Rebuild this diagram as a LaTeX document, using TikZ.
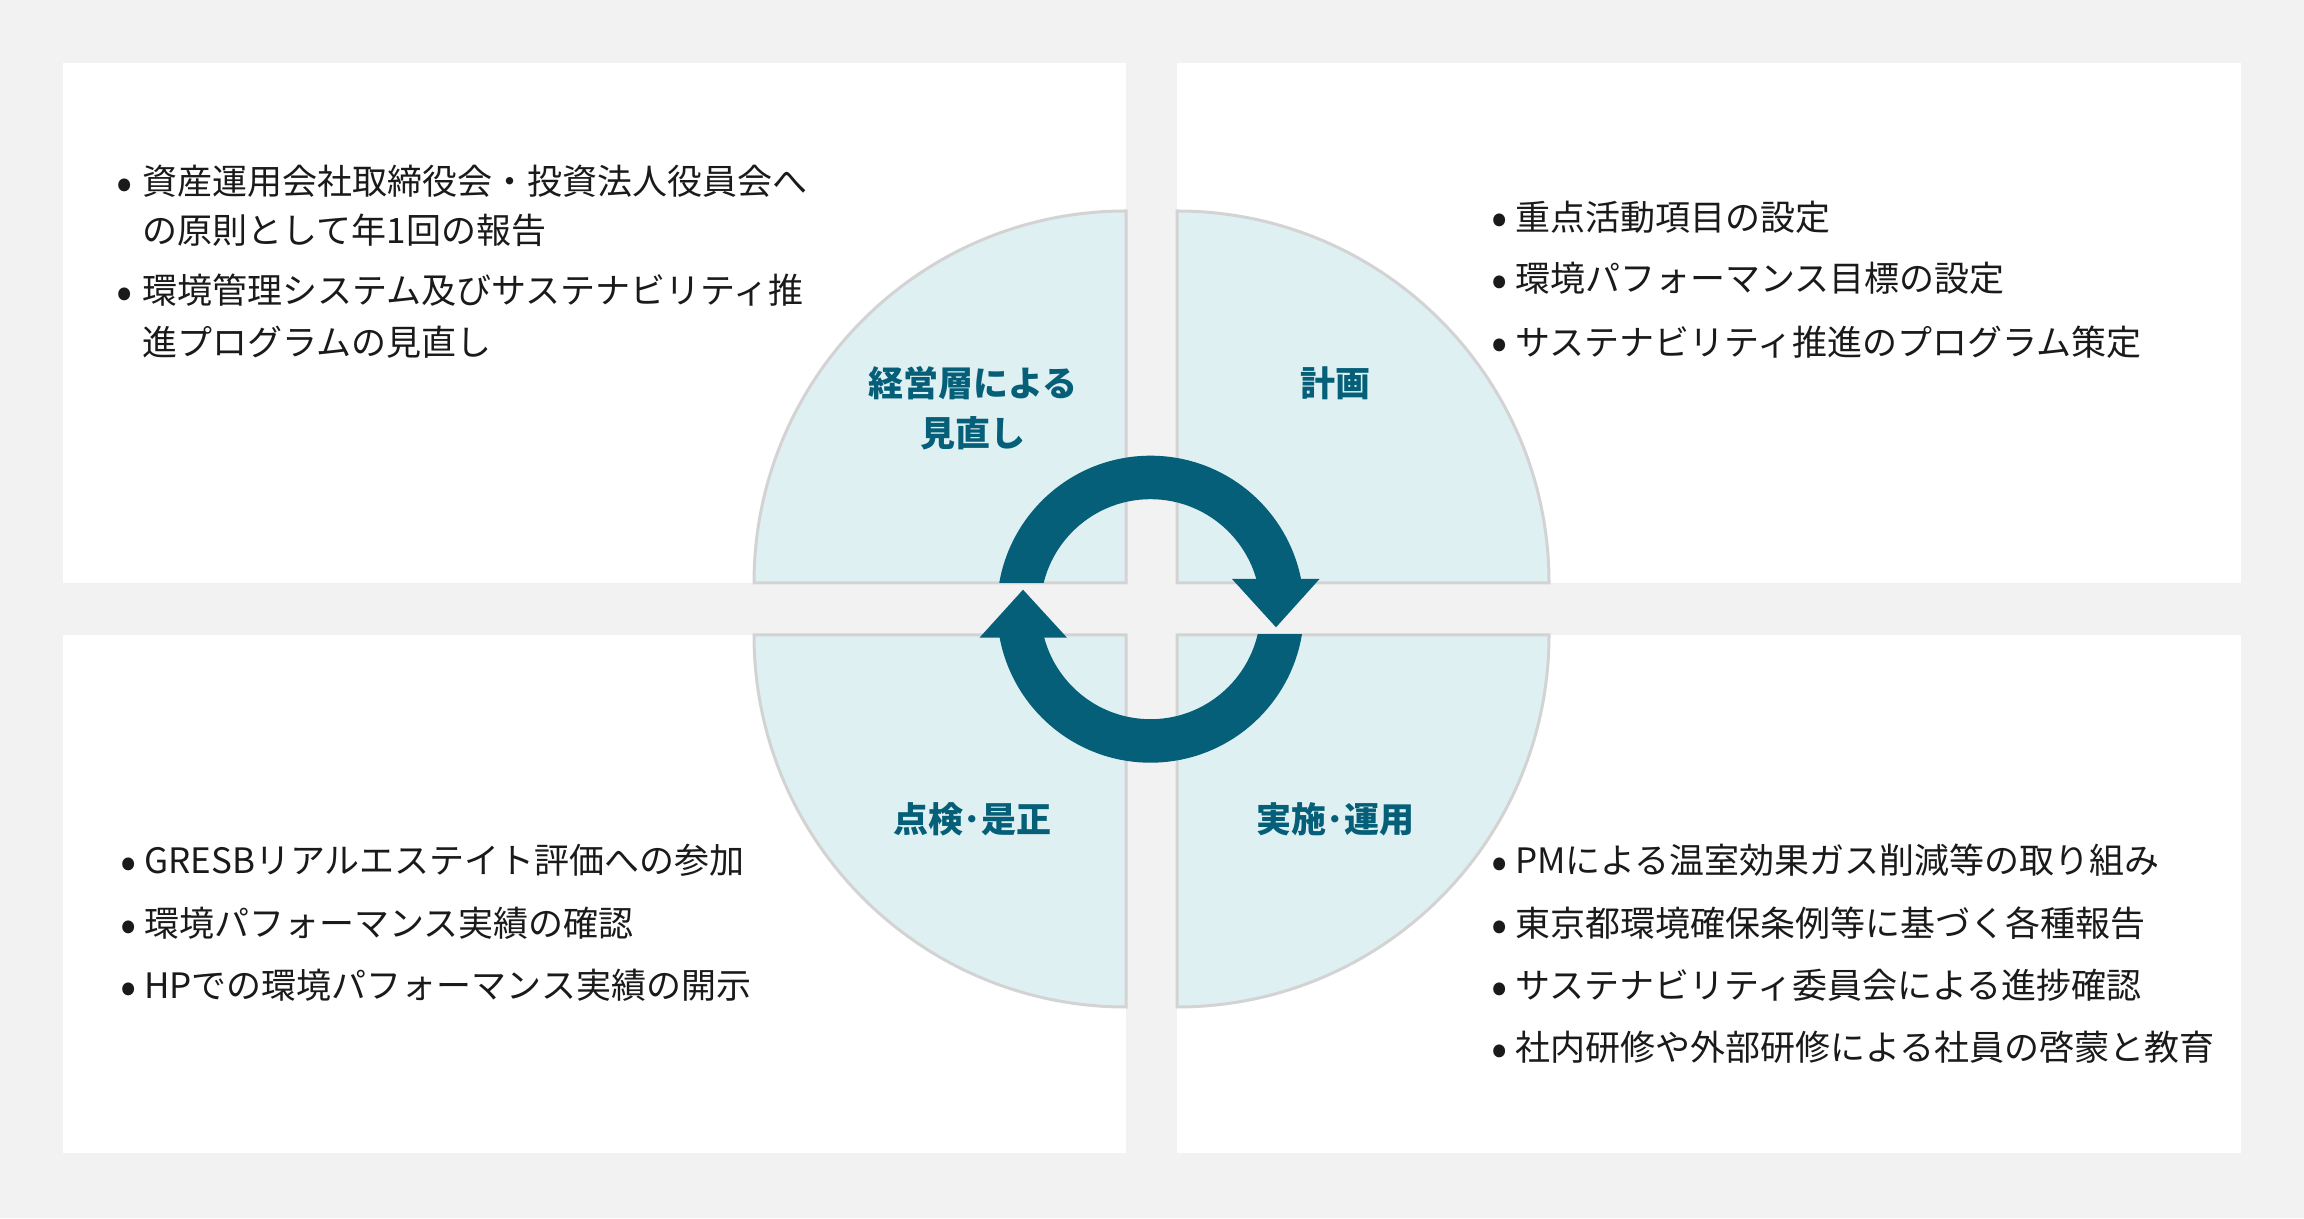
\documentclass[tikz,border=0pt]{standalone}
\usepackage{fontspec}
\newfontfamily\jp{Noto Sans CJK JP}
\definecolor{bgc}{HTML}{F2F2F2}
\definecolor{secfill}{HTML}{DFF0F2}
\definecolor{secline}{HTML}{D3D3D3}
\definecolor{arrowc}{HTML}{065F78}
\definecolor{txtc}{HTML}{1A1A1A}
\tikzset{
  bodytxt/.style={anchor=base west, inner sep=0pt, font=\jp\fontsize{35}{42}\selectfont, text=txtc},
  bul/.style={anchor=base, inner sep=0pt, yshift=-4.5pt, font=\jp\fontsize{48}{52}\selectfont, text=txtc},
  lab/.style={anchor=base, inner sep=0pt, font=\jp\bfseries\fontsize{35}{42}\selectfont, text=arrowc},
  panel/.style={fill=white, draw=none},
  sector/.style={fill=secfill, draw=secline, line width=3pt, line join=miter}
}
\begin{document}
\begin{tikzpicture}[x=1pt,y=1pt]
\fill[bgc] (0,0) rectangle (2304,1218);
\useasboundingbox (0,0) rectangle (2304,1218);
% panels
\fill[panel] (63,635) rectangle (1126,1155);
\fill[panel] (1177,635) rectangle (2241,1155);
\fill[panel] (63,65) rectangle (1126,583);
\fill[panel] (1177,65) rectangle (2241,583);
% sectors
\coordinate (ctl) at (1126,635);
\coordinate (ctr) at (1177,635);
\coordinate (cbl) at (1126,583);
\coordinate (cbr) at (1177,583);
\draw[sector] (ctl) -- ++(0,372) arc[start angle=90, end angle=180, radius=372] -- cycle;
\draw[sector] (ctr) -- ++(372,0) arc[start angle=0, end angle=90, radius=372] -- cycle;
\draw[sector] (cbl) -- ++(-372,0) arc[start angle=180, end angle=270, radius=372] -- cycle;
\draw[sector] (cbr) -- ++(0,-372) arc[start angle=270, end angle=360, radius=372] -- cycle;
% cycle arrow
\coordinate (rc) at (1150.5,608.8);
\begin{scope}
  \clip (950,635) rectangle (1350,800);
  \fill[arrowc, even odd rule] (rc) circle[radius=153.5] (rc) circle[radius=110];
\end{scope}
\begin{scope}
  \clip (950,583) rectangle (1350,400);
  \fill[arrowc, even odd rule] (rc) circle[radius=153.5] (rc) circle[radius=110];
\end{scope}
\fill[arrowc] (1232,639) -- (1319.5,639) -- (1276,590.7) -- cycle;
\fill[arrowc] (979.5,580.3) -- (1067,580.3) -- (1023,628.3) -- cycle;
% labels
\node[lab] (l1a) at (972.7,821.5) {経営層による};
\node[lab] (l1b) at (972.7,771.5) {見直し};
\node[lab] (l2) at (1335.7,821.5) {計画};
\node[lab] (l3) at (972.7,385) {点検･是正};
\node[lab] (l4) at (1335.7,385) {実施･運用};
% top-left texts
\node[bul] (tlb1) at (125,1023) {•};
\node[bodytxt] (tl1) at (142.5,1023) {資産運用会社取締役会・投資法人役員会へ};
\node[bodytxt] (tl2) at (142.5,974.3) {の原則として年1回の報告};
\node[bul] (tlb2) at (125,914) {•};
\node[bodytxt] (tl3) at (142.5,914) {環境管理システム及びサステナビリティ推};
\node[bodytxt] (tl4) at (142.5,862.6) {進プログラムの見直し};
% top-right texts
\node[bul] (trb1) at (1500,987.5) {•};
\node[bodytxt] (tr1) at (1515,987.5) {重点活動項目の設定};
\node[bul] (trb2) at (1500,926) {•};
\node[bodytxt] (tr2) at (1515,926) {環境パフォーマンス目標の設定};
\node[bul] (trb3) at (1500,862.6) {•};
\node[bodytxt] (tr3) at (1515,862.6) {サステナビリティ推進のプログラム策定};
% bottom-left texts
\node[bul] (blb1) at (129,344) {•};
\node[bodytxt] (bl1) at (144,344) {GRESBリアルエステイト評価への参加};
\node[bul] (blb2) at (129,281) {•};
\node[bodytxt] (bl2) at (144,281) {環境パフォーマンス実績の確認};
\node[bul] (blb3) at (129,219) {•};
\node[bodytxt] (bl3) at (144,219) {HPでの環境パフォーマンス実績の開示};
% bottom-right texts
\node[bul] (brb1) at (1500,344) {•};
\node[bodytxt] (br1) at (1515,344) {PMによる温室効果ガス削減等の取り組み};
\node[bul] (brb2) at (1500,281) {•};
\node[bodytxt] (br2) at (1515,281) {東京都環境確保条例等に基づく各種報告};
\node[bul] (brb3) at (1500,219) {•};
\node[bodytxt] (br3) at (1515,219) {サステナビリティ委員会による進捗確認};
\node[bul] (brb4) at (1500,157.3) {•};
\node[bodytxt] (br4) at (1515,157.3) {社内研修や外部研修による社員の啓蒙と教育};
\end{tikzpicture}
\end{document}
